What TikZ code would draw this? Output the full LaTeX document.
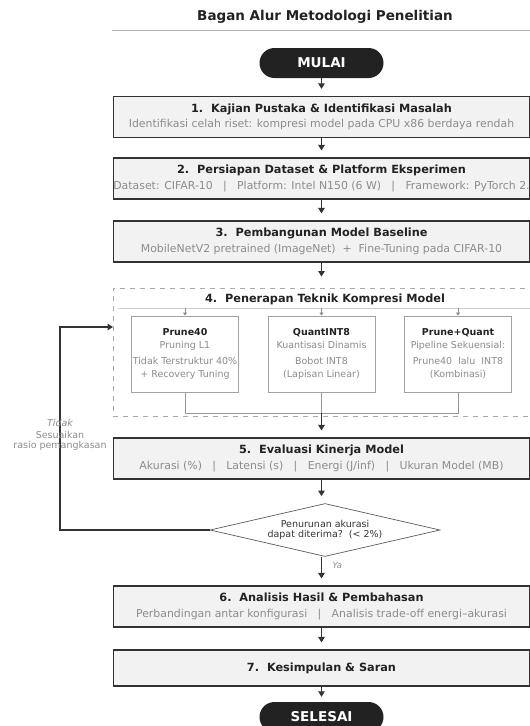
\documentclass[tikz,border=0pt]{standalone}
\usepackage{fontspec}
\setmainfont{DejaVu Sans}
\usetikzlibrary{arrows.meta,shapes.geometric,positioning}
\definecolor{kotak}{HTML}{F2F2F2}
\definecolor{garis}{HTML}{333333}
\definecolor{abu}{HTML}{8C8C8C}
\definecolor{abumuda}{HTML}{AAAAAA}
\definecolor{hitam}{HTML}{222222}
\tikzset{
  tahap/.style={draw=garis, line width=1.2pt, fill=kotak, minimum width=416pt, minimum height=41pt,
    align=center, inner sep=0pt, font=\fontsize{10.9}{15.5}\selectfont},
  pil/.style={fill=hitam, rounded corners=15pt, minimum width=124pt, minimum height=30pt,
    text=white, font=\fontsize{13.5}{15}\selectfont\bfseries},
  sub/.style={draw=abu!80, line width=0.9pt, fill=white, minimum width=107pt, minimum height=76pt,
    align=center, inner sep=0pt, text=abu, font=\fontsize{9.5}{13}\selectfont},
  panah/.style={draw=garis, line width=1.2pt, -{Triangle[length=5.5pt,width=6.5pt]}, shorten >=7pt},
}
\newcommand{\judul}[1]{{\fontsize{11.3}{14}\selectfont\bfseries\color{hitam}#1}}
\newcommand{\ket}[1]{{\color{abu}#1}}
\newcommand{\pisah}{\hspace{0.95em}|\hspace{0.95em}}
\begin{document}
\begin{tikzpicture}[x=1pt,y=-1pt]
\useasboundingbox (0,0) rectangle (530,726);
% judul bagan
\node[font=\fontsize{13.5}{15}\selectfont\bfseries, text=hitam] (judul) at (325,17) {Bagan Alur Metodologi Penelitian};
\draw[abu!70, line width=0.8pt] (112,30) -- (530,30);
% mulai
\node[pil] (mulai) at (321.5,63) {MULAI};
% tahap 1 - 3
\node[tahap] (s1) at (321.5,117) {\judul{1.\ \ Kajian Pustaka \& Identifikasi Masalah}\\
  \ket{Identifikasi celah riset: kompresi model pada CPU x86 berdaya rendah}};
\node[tahap] (s2) at (321.5,178.5) {\judul{2.\ \ Persiapan Dataset \& Platform Eksperimen}\\
  \ket{Dataset: CIFAR-10\pisah Platform: Intel N150 (6 W)\pisah Framework: PyTorch 2.}};
\node[tahap] (s3) at (321.5,241.5) {\judul{3.\ \ Pembangunan Model Baseline}\\
  \ket{MobileNetV2 pretrained (ImageNet)\ \ +\ \ Fine-Tuning pada CIFAR-10}};
% tahap 4 (kelompok putus-putus)
\node[draw=abumuda, line width=0.9pt, dash pattern=on 5pt off 5pt, minimum width=422pt, minimum height=128pt,
  inner sep=0pt] (tahap4) at (324,352) {};
\node[font=\fontsize{11.3}{14}\selectfont\bfseries, text=hitam] (judul4) at (325,299) {4.\ \ Penerapan Teknik Kompresi Model};
\coordinate (rule) at (118,308);
\draw[abumuda!60, line width=0.8pt] (rule) -- (530,308);
\node[sub] (pA) at (185,354) {{\bfseries\color{hitam}Prune40}\\ Pruning L1\\[3pt] Tidak Terstruktur 40\%\\ + Recovery Tuning};
\node[sub] (pB) at (321.5,354) {{\bfseries\color{hitam}QuantINT8}\\ Kuantisasi Dinamis\\[3pt] Bobot INT8\\ (Lapisan Linear)};
\node[sub] (pC) at (458,354) {{\bfseries\color{hitam}Prune+Quant}\\ Pipeline Sekuensial:\\[3pt] Prune40\ \ lalu\ \ INT8\\ (Kombinasi)};
\foreach \p in {pA,pB,pC}
  \draw[draw=abu, line width=0.8pt, -{Triangle[length=3pt,width=4pt]}] (\p.north |- rule) -- (\p.north);
\coordinate (gabung) at (321.5,413);
\draw[draw=abu!90, line width=0.9pt] (pA.south) -- (pA.south |- gabung) -- (pC.south |- gabung) -- (pC.south);
\draw[draw=abu!90, line width=0.9pt] (pB.south) -- (gabung);
% tahap 5
\node[tahap] (s5) at (321.5,458.5) {\judul{5.\ \ Evaluasi Kinerja Model}\\
  \ket{Akurasi (\%)\pisah Latensi (s)\pisah Energi (J/inf)\pisah Ukuran Model (MB)}};
% keputusan
\node[diamond, draw=garis!80, line width=0.7pt, fill=white, minimum width=230pt, minimum height=53pt,
  shape aspect=4.3, inner sep=0pt, align=center, text=garis, font=\fontsize{9.5}{10}\selectfont] (cek) at (325,530)
  {Penurunan akurasi\\ dapat diterima?\ \ (< 2\%)};
% tahap 6 - 7
\node[tahap] (s6) at (321.5,606.5) {\judul{6.\ \ Analisis Hasil \& Pembahasan}\\
  \ket{Perbandingan antar konfigurasi\pisah Analisis trade-off energi--akurasi}};
\node[tahap, minimum height=36pt] (s7) at (321.5,668) {\judul{7.\ \ Kesimpulan \& Saran}};
\node[pil] (selesai) at (321.5,717) {SELESAI};
% panah utama
\draw[panah] (mulai) -- (s1);
\draw[panah] (s1) -- (s2);
\draw[panah] (s2) -- (s3);
\draw[panah, shorten >=11pt] (s3) -- (s3.south |- tahap4.north);
\draw[panah] (gabung) -- (s5);
\draw[panah] (s5.south) -- (s5.south |- cek.north);
\draw[panah] (s6.north |- cek.south) -- (s6.north);
\node[font=\fontsize{8.5}{10}\selectfont\itshape, text=abu, anchor=west] (ya) at (329,565) {Ya};
\draw[panah] (s6) -- (s7);
\draw[panah, shorten >=5pt] (s7) -- (selesai);
% umpan balik
\coordinate (sisi) at (60,0);
\coordinate (masuk) at (113,327);
\draw[panah, shorten >=0pt] (cek.west) -- (cek.west -| sisi) -- (sisi |- masuk) -- (masuk);
\node[font=\fontsize{9.5}{10}\selectfont\itshape, text=abu] (tidak) at (60,423) {Tidak};
\node[font=\fontsize{9.5}{9.5}\selectfont, text=abu, align=center] (sesuai) at (60,441) {Sesuaikan\\ rasio pemangkasan};
\end{tikzpicture}
\end{document}
